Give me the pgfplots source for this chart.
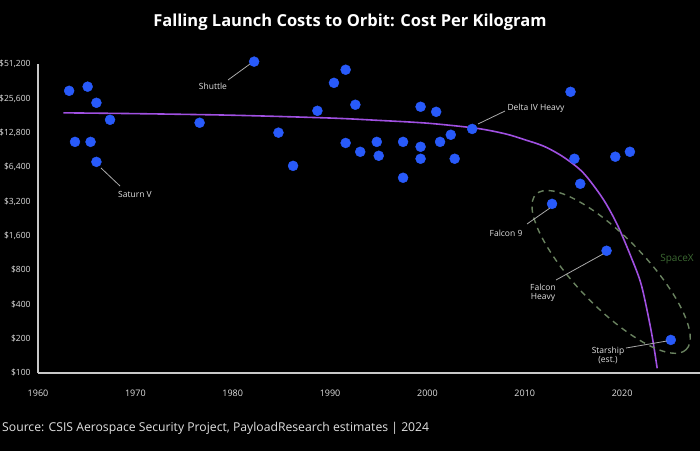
\documentclass[border=0pt]{standalone}
\usepackage{pgfplots}
\pgfplotsset{compat=1.18}
\usepackage{fontspec}
\setmainfont{Open Sans}
\definecolor{dotblue}{RGB}{40,90,250}
\definecolor{curvepurple}{RGB}{160,80,225}
\definecolor{axgray}{RGB}{200,200,200}
\definecolor{lblgray}{RGB}{225,225,225}
\definecolor{leader}{RGB}{170,170,170}
\definecolor{sxgreen}{RGB}{60,105,50}
\definecolor{ellgreen}{RGB}{105,130,95}
\begin{document}
\begin{tikzpicture}[x=1pt,y=1pt]
\fill[black] (-20,-10) rectangle (720,460);
\begin{axis}[
  at={(38pt,77pt)}, anchor=south west,
  scale only axis, width=662pt, height=309pt,
  xmin=1960, xmax=2028,
  ymode=log, log basis y=2, ymin=100, ymax=51200,
  axis lines=left, axis line style={axgray, line width=1.3pt, -},
  clip=false,
  xtick={1960,1970,1980,1990,2000,2010,2020},
  xticklabels={1960,1970,1980,1990,2000,2010,2020},
  ytick={100,200,400,800,1600,3200,6400,12800,25600,51200},
  yticklabels={{\$100},{\$200},{\$400},{\$800},{\$1,600},{\$3,200},{\$6,400},{\$12,800},{\$25,600},{\$51,200}},
  major tick length=0pt,
  tick label style={font=\fontsize{8.5}{10}\selectfont, text=lblgray},
  yticklabel style={anchor=east, xshift=-4pt},
  xticklabel style={yshift=-13pt, font=\fontsize{9}{10}\selectfont},
]
\addplot[only marks, mark=*, mark size=5pt, mark options={fill=dotblue, draw=dotblue}] coordinates {
(1963.2,29800) (1965.1,32400) (1966.0,23400) (1967.4,16600) (1963.8,10630) (1965.4,10630) (1966.0,7100)
(1976.6,15640) (1982.2,53700) (1984.7,12800) (1986.2,6550) (1988.7,19900) (1990.4,35000) (1991.6,45600)
(1991.6,10400) (1992.6,22500) (1993.1,8700) (1994.8,10630) (1995.0,8030) (1997.5,10630) (1997.5,5150)
(1999.3,21600) (1999.3,9630) (1999.3,7560) (2000.9,19500) (2001.3,10630) (2002.4,12270) (2002.8,7560)
(2004.6,13800) (2014.7,29200) (2015.1,7560) (2015.7,4560) (2019.3,7880) (2020.8,8700)
(2012.8,3040) (2018.4,1180) (2025.0,195)
};
\addplot[curvepurple, line width=1.6pt, smooth, tension=0.5] coordinates {
(1962.6,19100) (1970,18800) (1980,18200) (1990,17200) (1995,16400) (2000,15500) (2005,14000)
(2008,12500) (2010,11100) (2012,9700) (2014,7800) (2016,5700) (2018,3400) (2019.5,2000)
(2021,1000) (2022,580) (2023,230) (2023.6,110)
};
\path (axis cs:2018.87,770) coordinate (ec);
\draw[ellgreen, line width=1.4pt, dash pattern=on 6pt off 5pt, rotate around={-46:(ec)}] (ec) ellipse [x radius=108pt, y radius=35pt];
\end{axis}
% annotations
\begin{scope}[every node/.style={font=\fontsize{8.5}{10}\selectfont, text=lblgray, inner sep=1pt, align=center}]
\draw[leader, line width=0.8pt] (228,370) -- (250,386);
\node at (213,364) {Shuttle};
\draw[leader, line width=0.8pt] (101,282) -- (120,264);
\node at (135,256) {Saturn V};
\draw[leader, line width=0.8pt] (478,326) -- (505,339);
\node at (536,342) {Delta IV Heavy};
\draw[leader, line width=0.8pt] (527,226) -- (550,242);
\node at (506,217) {Falcon 9};
\draw[leader, line width=0.8pt] (556,170) -- (603,196);
\node[align=center] at (543,157) {Falcon\\[-1pt]Heavy};
\draw[leader, line width=0.8pt] (626,102) -- (667,109);
\node[align=center] at (608,95) {Starship\\[-1pt](est.)};
\node[font=\fontsize{10}{12}\selectfont, text=sxgreen] at (677,191) {SpaceX};
\end{scope}
\node[font=\fontsize{16.5}{19}\selectfont\bfseries, text=white] at (350,428) {Falling Launch Costs to Orbit: Cost Per Kilogram};
\node[font=\fontsize{12.2}{14}\selectfont, text=lblgray, anchor=west, inner sep=0pt] at (2,22) {Source: CSIS Aerospace Security Project, PayloadResearch estimates | 2024};
\pgfresetboundingbox
\path[use as bounding box] (0,0) rectangle (700,450);
\end{tikzpicture}
\end{document}
